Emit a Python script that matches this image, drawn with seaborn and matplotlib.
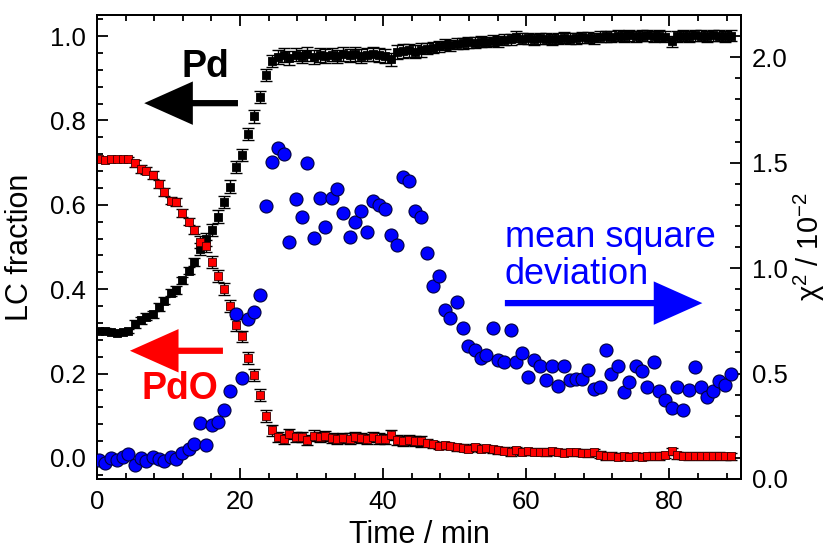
import matplotlib
matplotlib.use("Agg")
import matplotlib.pyplot as plt
from matplotlib.ticker import MultipleLocator, FormatStrFormatter
import pandas as pd
import seaborn as sns

# Sampling times (min)
time_min = [
    0.3, 1.1, 1.9, 2.8, 3.6, 4.4, 5.3, 6.1, 6.9, 7.8,
    8.6, 9.4, 10.3, 11.1, 11.9, 12.8, 13.6, 14.4, 15.3, 16.1,
    16.9, 17.8, 18.6, 19.4, 20.3, 21.1, 21.9, 22.8, 23.6, 24.4,
    25.3, 26.1, 26.9, 27.8, 28.6, 29.4, 30.3, 31.1, 31.9, 32.8, 33.6,
    34.4, 35.3, 36.1, 36.9, 37.8, 38.6, 39.4, 40.3, 41.1, 41.9, 42.8, 43.6, 44.4,
    45.3, 46.1, 46.9, 47.8, 48.6, 49.4, 50.3, 51.1, 51.9, 52.8, 53.6, 54.4,
    55.3, 56.1, 56.9, 57.8, 58.6, 59.4, 60.3, 61.1, 61.9, 62.8, 63.6, 64.4, 65.3,
    66.1, 66.9, 67.8, 68.6, 69.4, 70.3,
    71.1, 71.9, 72.8, 73.6, 74.4, 75.3, 76.1, 76.9, 77.8, 78.6, 79.4, 80.3,
    81.1, 81.9, 82.8, 83.6, 84.4, 85.3, 86.1, 86.9, 87.8, 88.6,
]

# Linear-combination fraction of metallic Pd
pd_frac = [
    0.300, 0.302, 0.298, 0.297, 0.298, 0.300, 0.318, 0.326, 0.335, 0.340,
    0.358, 0.373, 0.392, 0.398, 0.421, 0.444, 0.464, 0.495, 0.518, 0.540,
    0.572, 0.607, 0.643, 0.690, 0.718, 0.768, 0.810, 0.856, 0.908, 0.941,
    0.950, 0.955, 0.948, 0.956, 0.952, 0.957, 0.950, 0.955, 0.953, 0.956, 0.952,
    0.957, 0.954, 0.958, 0.953, 0.956, 0.958, 0.955, 0.953, 0.945, 0.962, 0.965, 0.966, 0.963, 0.967,
    0.970, 0.972, 0.976, 0.980, 0.978, 0.982, 0.983, 0.985, 0.984, 0.987, 0.986, 0.989,
    0.988, 0.991, 0.993, 0.998, 0.994, 0.995, 0.993, 0.995, 0.994, 0.992, 0.994, 0.996, 0.994,
    0.995, 0.997, 0.996, 0.995, 0.998,
    1.000, 0.999, 1.001, 1.000, 1.002, 1.000, 1.001, 1.002, 1.000, 1.001, 0.999, 0.988,
    1.000, 1.001, 1.000, 1.002, 1.001, 1.000, 1.002, 1.001, 1.000, 1.001,
]

# Linear-combination fraction of PdO
pdo_frac = [
    0.709, 0.707, 0.708, 0.709, 0.708, 0.709, 0.698, 0.685, 0.681, 0.671,
    0.649, 0.631, 0.610, 0.606, 0.581, 0.560, 0.541, 0.511, 0.503, 0.464,
    0.432, 0.400, 0.361, 0.315, 0.288, 0.236, 0.197, 0.150, 0.099, 0.065,
    0.049, 0.045, 0.057, 0.049, 0.049, 0.043, 0.053, 0.049, 0.051, 0.047, 0.045,
    0.048, 0.046, 0.050, 0.047, 0.045, 0.049, 0.046, 0.044, 0.054, 0.042, 0.040, 0.043, 0.041, 0.039,
    0.036, 0.032, 0.029, 0.030, 0.028, 0.025, 0.024, 0.022, 0.025, 0.021, 0.023, 0.020,
    0.018, 0.017, 0.013, 0.018, 0.015, 0.016, 0.014, 0.015, 0.013, 0.016, 0.014, 0.012, 0.014,
    0.013, 0.012, 0.011, 0.013, 0.008,
    0.004, 0.005, 0.003, 0.004, 0.003, 0.004, 0.003, 0.004, 0.005, 0.004, 0.007, 0.016,
    0.006, 0.005, 0.004, 0.005, 0.004, 0.005, 0.004, 0.005, 0.004, 0.004,
]

# Fit uncertainties
pd_err = [0.005] * 6 + [0.009] * 11 + [0.015] * 13 + [0.016] * 25 + [0.013] * 52
pdo_err = [0.005] * 6 + [0.009] * 11 + [0.014] * 13 + [0.012] * 25 + [0.008] * 52

# Mean square deviation of the fit (units of 1e-2)
chi2 = [
    0.090, 0.078, 0.099, 0.090, 0.106, 0.119, 0.067, 0.101, 0.086, 0.103,
    0.094, 0.087, 0.103, 0.094, 0.125, 0.141, 0.165,
    0.265, 0.162, 0.256, 0.271, 0.329, 0.416, 0.781, 0.478, 0.757, 0.792, 0.873,
    1.293, 1.502, 1.571, 1.540, 1.125, 1.329, 1.243, 1.499, 1.143, 1.330, 1.194, 1.333, 1.375,
    1.262, 1.149, 1.219, 1.273, 1.170, 1.318, 1.300, 1.278, 1.157, 1.111, 1.432, 1.413,
    1.271, 1.243, 1.070, 0.913, 0.963, 0.799, 0.762, 0.837, 0.716, 0.630,
    0.610, 0.575, 0.587, 0.714, 0.562, 0.554, 0.706, 0.554, 0.599, 0.482, 0.563, 0.538,
    0.471, 0.538, 0.443, 0.535, 0.471, 0.475, 0.475, 0.516, 0.427, 0.437, 0.611, 0.500,
    0.535, 0.414, 0.459, 0.535, 0.511, 0.437, 0.554, 0.416, 0.376, 0.337,
    0.437, 0.329, 0.420, 0.530, 0.435, 0.389, 0.416, 0.467, 0.448, 0.500,
]

df = pd.DataFrame({"time": time_min, "pd": pd_frac, "pdo": pdo_frac,
                   "pd_err": pd_err, "pdo_err": pdo_err, "chi2": chi2})

sns.set_theme(style="ticks")
plt.rcParams["font.family"] = ["Liberation Sans", "DejaVu Sans"]
plt.rcParams["mathtext.fontset"] = "custom"
plt.rcParams["mathtext.rm"] = "Liberation Sans"
plt.rcParams["mathtext.it"] = "Liberation Sans:italic"
plt.rcParams["mathtext.default"] = "regular"
plt.rcParams["axes.edgecolor"] = "black"
plt.rcParams["axes.labelcolor"] = "black"
plt.rcParams["text.color"] = "black"
plt.rcParams["xtick.color"] = "black"
plt.rcParams["ytick.color"] = "black"
plt.rcParams["xtick.labelcolor"] = "black"
plt.rcParams["ytick.labelcolor"] = "black"

W, H = 832, 551
fig = plt.figure(figsize=(W / 100, H / 100), dpi=100)
ax = fig.add_axes([97 / W, 1 - 479 / H, (741 - 97) / W, (479 - 15) / H])
ax2 = ax.twinx()

RED = "#ff0000"
BLUE = "#0000ff"

# Pd and PdO fractions with error bars
ax.errorbar(df["time"], df["pd"], yerr=df["pd_err"], fmt="none", ecolor="black",
            elinewidth=1.0, capsize=4.5, capthick=1.0, zorder=2)
sns.scatterplot(data=df, x="time", y="pd", marker="s", s=36, color="black",
                edgecolor="black", linewidth=0.6, ax=ax, zorder=3)
ax.errorbar(df["time"], df["pdo"], yerr=df["pdo_err"], fmt="none", ecolor="black",
            elinewidth=1.0, capsize=4.5, capthick=1.0, zorder=4)
sns.scatterplot(data=df, x="time", y="pdo", marker="s", s=36, color=RED,
                edgecolor="#400000", linewidth=0.6, ax=ax, zorder=5)

# Mean square deviation on the right axis
sns.scatterplot(data=df, x="time", y="chi2", marker="o", s=88, color=BLUE,
                edgecolor="#000040", linewidth=0.8, ax=ax2, zorder=3)

ax.set_xlim(0, 90)
ax.set_ylim(-0.05, 1.05)
ax2.set_ylim(0, 2.2)

ax.xaxis.set_major_locator(MultipleLocator(20))
ax.xaxis.set_minor_locator(MultipleLocator(4))
ax.yaxis.set_major_locator(MultipleLocator(0.2))
ax.yaxis.set_minor_locator(MultipleLocator(0.04))
ax.yaxis.set_major_formatter(FormatStrFormatter("%.1f"))
ax2.yaxis.set_major_locator(MultipleLocator(0.5))
ax2.yaxis.set_minor_locator(MultipleLocator(0.1))
ax2.yaxis.set_major_formatter(FormatStrFormatter("%.1f"))

TICK_FS = 18.5
LABEL_FS = 22
ax.tick_params(axis="x", which="both", direction="in", top=True, bottom=True,
               labelsize=TICK_FS, pad=8)
ax.tick_params(axis="y", which="both", direction="in", left=True, right=False,
               labelsize=TICK_FS, pad=8)
ax.tick_params(which="major", length=8, width=1.3)
ax.tick_params(which="minor", length=4.5, width=1.3)
ax2.tick_params(axis="y", which="both", direction="in", right=True,
                labelsize=TICK_FS, pad=8)
ax2.tick_params(which="major", length=8, width=1.3)
ax2.tick_params(which="minor", length=4.5, width=1.3)

for a in (ax, ax2):
    for sp in a.spines.values():
        sp.set_linewidth(1.4)
        sp.set_color("black")

ax.set_xlabel("Time / min", fontsize=LABEL_FS, labelpad=4)
ax.set_ylabel("LC fraction", fontsize=LABEL_FS)
ax.yaxis.set_label_coords(-0.096, 0.5)
ax2.set_ylabel("χ$^{2}$ / 10$^{-2}$", fontsize=21)
ax2.yaxis.set_label_coords(1.079, 0.5)

# Annotations: labels with arrows pointing to the relevant axis
def arrow(x0, y0, x1, y1, color):
    ax.annotate("", xy=(x1, y1), xytext=(x0, y0), xycoords="data",
                arrowprops=dict(arrowstyle="simple,head_length=1.4,head_width=1.25,tail_width=0.18",
                                mutation_scale=25, fc=color, ec=color, lw=0,
                                shrinkA=0, shrinkB=0), zorder=6)

ax.text(15.1, 0.927, "Pd", fontsize=27, fontweight="bold", color="black",
        ha="center", va="center", zorder=6)
arrow(19.7, 0.841, 6.6, 0.841, "black")

ax.text(11.6, 0.164, "PdO", fontsize=27, fontweight="bold", color=RED,
        ha="center", va="center", zorder=6)
arrow(17.6, 0.254, 4.6, 0.254, RED)

ax.text(57.0, 0.50, "mean square", fontsize=26, color=BLUE,
        ha="left", va="baseline", zorder=6)
ax.text(57.0, 0.412, "deviation", fontsize=26, color=BLUE,
        ha="left", va="baseline", zorder=6)
arrow(57.0, 0.367, 84.6, 0.367, BLUE)

fig.savefig("out.png", dpi=100)
